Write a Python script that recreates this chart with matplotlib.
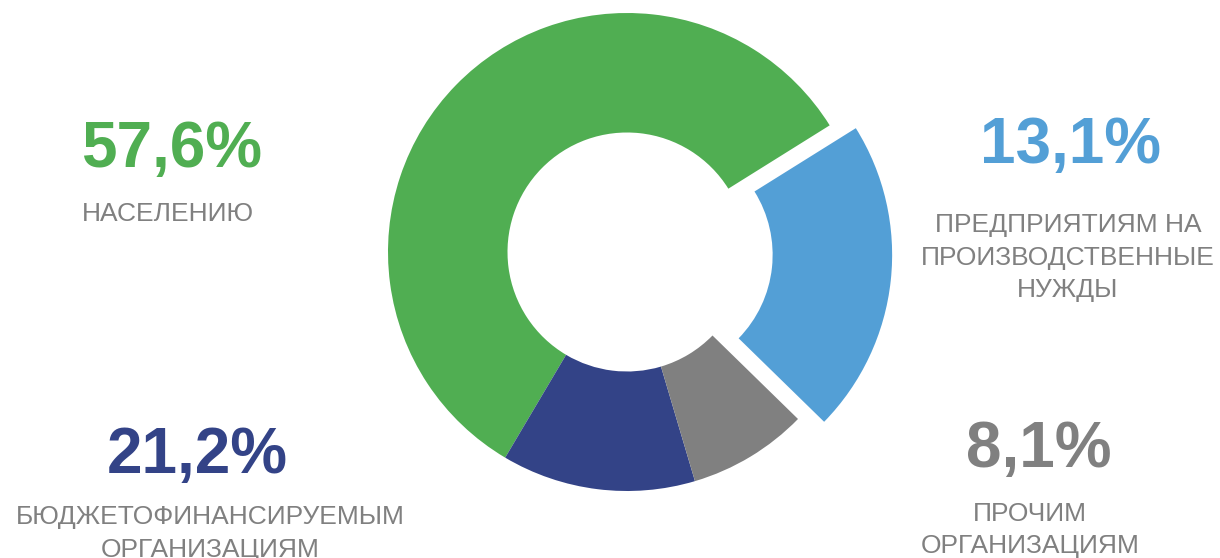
import matplotlib.pyplot as plt

# shares as printed next to the ring
categories = ["НАСЕЛЕНИЮ",
              "БЮДЖЕТОФИНАНСИРУЕМЫМ\nОРГАНИЗАЦИЯМ",
              "ПРОЧИМ\nОРГАНИЗАЦИЯМ",
              "ПРЕДПРИЯТИЯМ НА\nПРОИЗВОДСТВЕННЫЕ\nНУЖДЫ"]
label_shares = [57.6, 21.2, 8.1, 13.1]
# slice sizes as drawn in the ring (same category order)
slice_shares = [57.6, 13.1, 8.1, 21.2]
colors = ["#50AE52", "#334387", "#808080", "#539FD6"]
explode = [0, 0, 0, 0.11]

text_gray = "#808080"
plt.rcParams['font.family'] = ['Liberation Sans', 'DejaVu Sans']

W, H = 1220, 558
R = 239
fig = plt.figure(figsize=(W / 100, H / 100), dpi=100)
ax = fig.add_axes([0, 0, 1, 1])

# pie takes explode in data units, so scale by the radius
ax.pie(slice_shares, colors=colors, explode=[e * R for e in explode],
       startangle=32, counterclock=True, radius=R, center=(627, H - 252),
       wedgeprops=dict(width=119.5, linewidth=0), frame=True)
ax.set_xlim(0, W)
ax.set_ylim(0, H)
ax.set_aspect('equal')
ax.axis('off')

# label positions in pixels from top-left: (pct x, pct baseline, text x, first baseline)
spots = [(172, 167, 168, 221),
         (197, 473, 210, 524),
         (1039, 467, 1030, 521),
         (1070, 163, 1068, 232)]
line_step = 32.5

for cat, val, col, (px, py, tx, ty) in zip(categories, label_shares, colors, spots):
    pct = f"{val:.1f}%".replace('.', ',')
    ax.text(px, H - py, pct, color=col, fontsize=46, fontweight='bold',
            ha='center', va='baseline')
    for i, line in enumerate(cat.split("\n")):
        ax.text(tx, H - (ty + i * line_step), line, color=text_gray,
                fontsize=19, ha='center', va='baseline')

fig.savefig("out.png", dpi=100, facecolor='white')
